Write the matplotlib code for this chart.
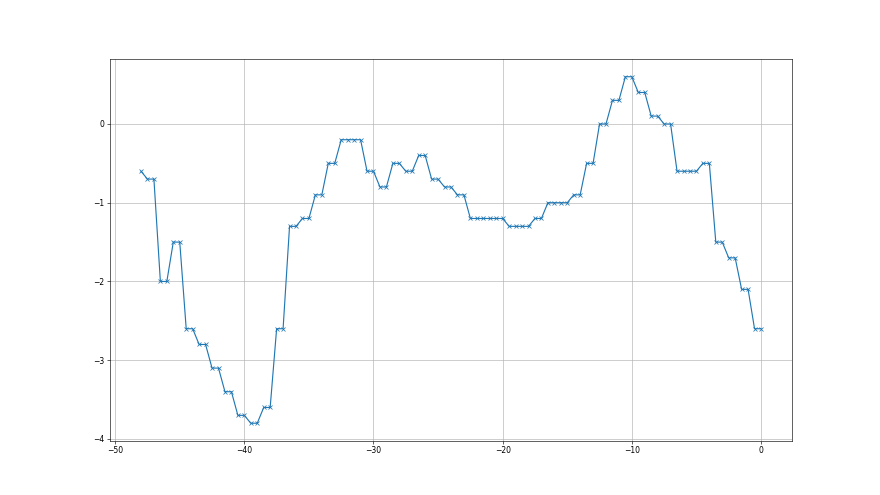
import numpy as np
import matplotlib
matplotlib.use("Agg")
import matplotlib.pyplot as plt

# x runs from -48 to 0 in half steps
x = np.arange(-48, 0.5, 0.5)
y = [-0.6,
     -0.7, -0.7, -2.0, -2.0, -1.5, -1.5, -2.6, -2.6, -2.8, -2.8,
     -3.1, -3.1, -3.4, -3.4, -3.7, -3.7, -3.8, -3.8, -3.6, -3.6,
     -2.6, -2.6, -1.3, -1.3, -1.2, -1.2, -0.9, -0.9, -0.5, -0.5,
     -0.2, -0.2, -0.2, -0.2, -0.6, -0.6, -0.8, -0.8, -0.5, -0.5,
     -0.6, -0.6, -0.4, -0.4, -0.7, -0.7, -0.8, -0.8, -0.9, -0.9,
     -1.2, -1.2, -1.2, -1.2, -1.2, -1.2, -1.3, -1.3, -1.3, -1.3,
     -1.2, -1.2, -1.0, -1.0, -1.0, -1.0, -0.9, -0.9, -0.5, -0.5,
     0.0, 0.0, 0.3, 0.3, 0.6, 0.6, 0.4, 0.4, 0.1, 0.1,
     0.0, 0.0, -0.6, -0.6, -0.6, -0.6, -0.5, -0.5, -1.5, -1.5,
     -1.7, -1.7, -2.1, -2.1, -2.6, -2.6]

fig, ax = plt.subplots(figsize=(16, 9), dpi=55)
ax.plot(x, y, marker="x")
ax.grid(True)

plt.savefig("out.png")
